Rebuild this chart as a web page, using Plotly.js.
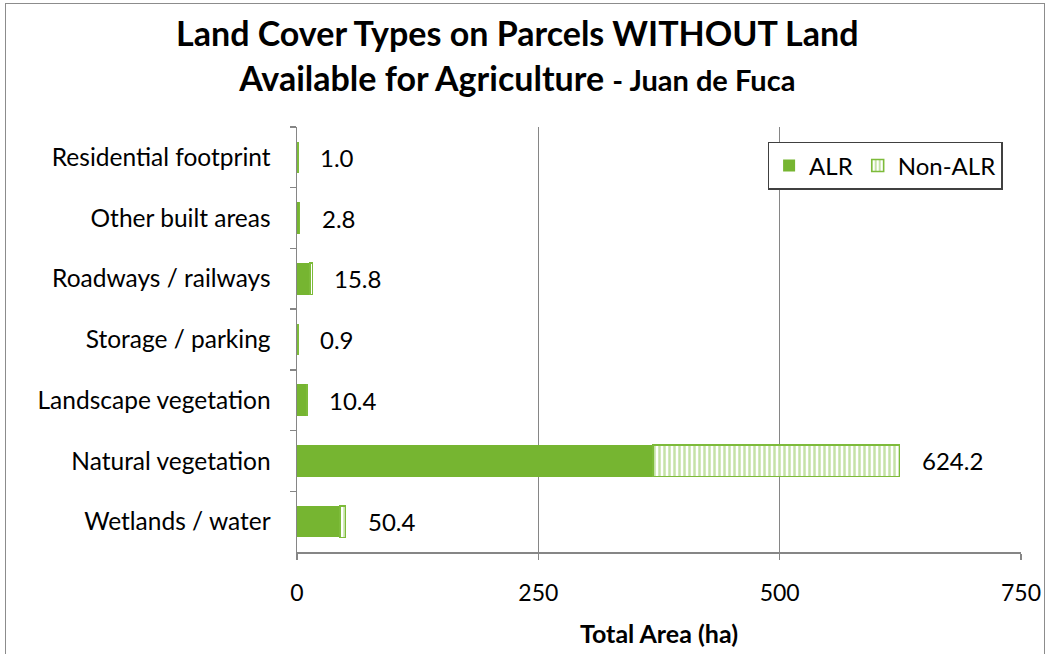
<!DOCTYPE html>
<html><head><meta charset="utf-8">
<script src="https://cdn.plot.ly/plotly-3.0.1.min.js"></script>
<style>
body{margin:0;padding:0;background:#fff;}
#frame{position:absolute;left:5px;top:3px;width:1040px;height:660px;border:1.5px solid #8c8c8c;box-sizing:border-box;}
#chart{position:absolute;left:0;top:0;width:1045px;height:654px;}
</style>
</head><body>
<div id="frame"></div>
<div id="chart"></div>
<script>
const categories = ["Residential footprint","Other built areas","Roadways / railways","Storage / parking","Landscape vegetation","Natural vegetation","Wetlands / water"];
const alrValues = [1.0, 2.8, 13.5, 0.9, 10.4, 369.0, 44.5];
const nonAlrValues = [0, 0, 2.3, 0, 0, 255.2, 5.9];
const totalLabels = ["1.0","2.8","15.8","0.9","10.4","624.2","50.4"];
const xTicks = [0, 250, 500, 750];

const green = "#76b531";
const font = "Lato, 'Open Sans', sans-serif";

const totals = alrValues.map((v,i)=>v+nonAlrValues[i]);

const traces = [
  {type:"bar", orientation:"h", name:"ALR", y:categories, x:alrValues,
   marker:{color:green, line:{color:green, width:0}}, hoverinfo:"skip"},
  {type:"bar", orientation:"h", name:"Non-ALR", y:categories, x:nonAlrValues,
   marker:{color:"#ffffff", line:{color:"#7dbb3a", width:1.5},
     pattern:{shape:"|", fgcolor:"#8cc650", bgcolor:"#ffffff", size:5, solidity:0.5, fillmode:"overlay"}},
   hoverinfo:"skip"}
];

const annotations = categories.map((c,i)=>({
  x: totals[i], y: c, xref:"x", yref:"y", text: totalLabels[i],
  showarrow:false, xanchor:"left", yanchor:"middle", xshift:20,
  font:{family:font, size:24, color:"#000"}
}));

const layout = {
  width:1045, height:654,
  paper_bgcolor:"rgba(0,0,0,0)", plot_bgcolor:"rgba(0,0,0,0)",
  margin:{l:297, r:24, t:127, b:102},
  barmode:"stack", bargap:0.48,
  showlegend:true,
  title:{text:"<b>Land Cover Types on Parcels WITHOUT Land<br>Available for Agriculture <span style='font-size:29px'>- Juan de Fuca</span></b>",
    font:{family:font, size:34, color:"#000"}, x:0.495, xanchor:"center", y:0.929, yanchor:"middle"},
  xaxis:{range:[0,750], tickvals:xTicks, ticktext:xTicks.map(String),
    showgrid:true, gridcolor:"#868686", gridwidth:1.5,
    showline:true, linecolor:"#868686", linewidth:1.5, zeroline:false,
    ticks:"outside", ticklen:6, tickcolor:"#868686", tickwidth:1.5,
    ticklabelstandoff:14,
    tickfont:{family:font, size:23, color:"#000"},
    title:{text:"<b>Total Area (ha)</b>", font:{family:font, size:25, color:"#000"}, standoff:20},
    fixedrange:true},
  yaxis:{autorange:"reversed", type:"category",
    showline:true, linecolor:"#868686", linewidth:1.5,
    ticks:"outside", ticklen:6, tickcolor:"#868686", tickwidth:1.5, tickson:"boundaries",
    tickfont:{family:font, size:24.5, color:"#000"}, ticklabelstandoff:20,
    showgrid:false, fixedrange:true},
  legend:{orientation:"h", x:0.65, xanchor:"left", y:0.965, yanchor:"top",
    bordercolor:"#404040", borderwidth:1.5, bgcolor:"#fff",
    font:{family:font, size:24, color:"#000"}, itemwidth:30, traceorder:"normal"},
  annotations: annotations
};

Plotly.newPlot("chart", traces, layout, {displayModeBar:false, staticPlot:true});
</script>
</body></html>
